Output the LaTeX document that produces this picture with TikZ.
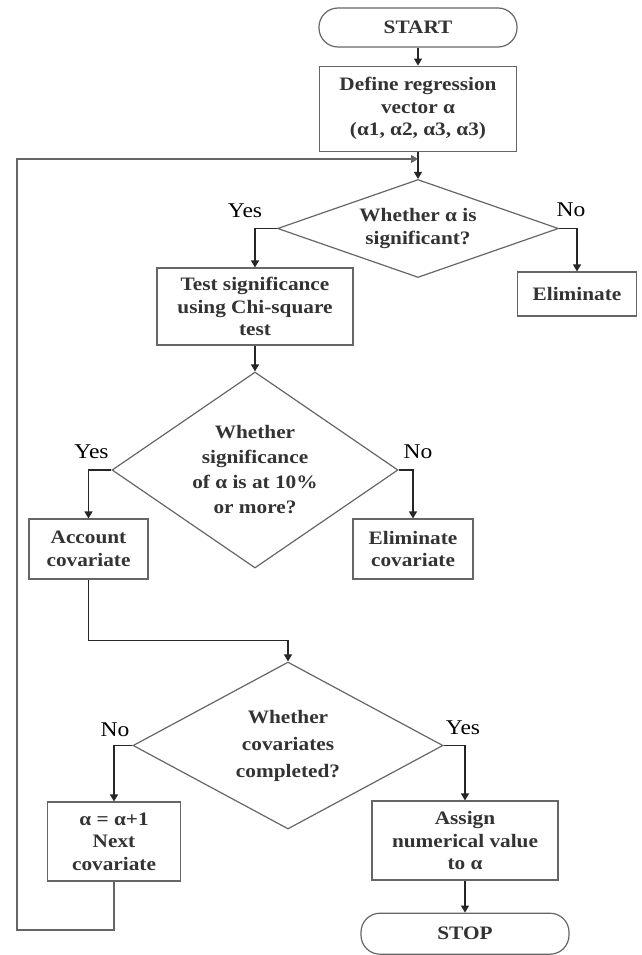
\documentclass[tikz,border=0pt]{standalone}
\usepackage{fontspec}
\setmainfont[FakeStretch=1.12]{Liberation Serif}
\usepackage{tikz}
\usetikzlibrary{arrows.meta,positioning,shapes.geometric}

\begin{document}
\begin{tikzpicture}[
    x=1pt, y=-1pt,
    node distance=18pt,
    >={Triangle[length=7pt,width=8pt]},
    line width=1.2pt,
    every node/.style={font={\fontsize{19}{22.5}\selectfont\bfseries}, text=black!80},
    box/.style={
        rectangle,
        draw=black!60,
        align=center,
        inner sep=2pt
    },
    terminal/.style={
        rectangle,
        rounded corners=19pt,
        draw=black!60,
        align=center,
        inner sep=2pt
    },
    decision/.style={
        diamond,
        draw=black!60,
        align=center,
        inner sep=0pt
    },
    flow/.style={->, draw=black!85},
    yn/.style={font={\fontsize{21}{24}\selectfont}, text=black, inner sep=1pt}
]
\useasboundingbox (0,0) rectangle (642,955);

\node[terminal, minimum width=198pt, minimum height=39pt] (start) at (418,27.5) {START};
\node[box, minimum width=197pt, minimum height=85pt, below=of start] (define) {Define regression\\ vector α\\ (α1, α2, α3, α3)};
\node[decision, aspect=2.87, minimum width=281pt, minimum height=98pt] (sigq) at (418,228.5) {Whether α is\\ significant?};
\node[box, minimum width=196pt, minimum height=77pt] (chisq) at (255,306.5) {Test significance\\ using Chi-square\\ test};
\node[box, minimum width=119pt, minimum height=44pt] (elim) at (577,294) {Eliminate};
\node[decision, aspect=1.46, minimum width=286pt, minimum height=196pt,
      font={\fontsize{19}{25}\selectfont\bfseries}] (levelq) at (255,470) {Whether\\ significance\\ of α is at 10\%\\ or more?};
\node[box, minimum width=119pt, minimum height=60pt] (account) at (88.5,549) {Account\\ covariate};
\node[box, minimum width=120pt, minimum height=60pt] (elimcov) at (413,549) {Eliminate\\ covariate};
\node[decision, aspect=1.86, minimum width=310pt, minimum height=167pt,
      font={\fontsize{19}{27}\selectfont\bfseries}] (doneq) at (288,745.5) {Whether\\ covariates\\ completed?};
\node[box, minimum width=133pt, minimum height=79pt] (nextcov) at (114,841.5) {α = α+1\\ Next\\ covariate};
\node[box, minimum width=186pt, minimum height=79pt] (assign) at (465,840.5) {Assign\\ numerical value\\ to α};
\node[terminal, minimum width=208pt, minimum height=41pt, below=32pt of assign] (stop) {STOP};

\coordinate (join) at (418,159);
\coordinate (loopbot) at (17,930);

\draw[flow] (start) -- (define);
\draw[flow] (define) -- (sigq);
\draw[flow] (sigq.west) -| node[yn, pos=0.5, xshift=-10pt, yshift=18pt] (yes1) {Yes} (chisq.north);
\draw[flow] (sigq.east) -| node[yn, pos=0.5, xshift=-6pt, yshift=19pt] (no1) {No} (elim.north);
\draw[flow] (chisq) -- (levelq);
\draw[flow] (levelq.west) -| node[yn, pos=0.5, xshift=3pt, yshift=18pt] (yes2) {Yes} (account.north);
\draw[flow] (levelq.east) -| node[yn, pos=0.5, xshift=5pt, yshift=18pt] (no2) {No} (elimcov.north);
\draw[flow] (account.south) -- ++(0,61) -| (doneq.north);
\draw[flow] (doneq.west) -| node[yn, pos=0.5, xshift=1pt, yshift=16pt] (no3) {No} (nextcov.north);
\draw[flow] (doneq.east) -| node[yn, pos=0.5, xshift=-2pt, yshift=18pt] (yes3) {Yes} (assign.north);
\draw[flow] (assign) -- (stop);

% loop back to the significance check
\draw[flow, draw=black!60] (nextcov.south) |- (loopbot) |- (join);

\end{tikzpicture}
\end{document}
